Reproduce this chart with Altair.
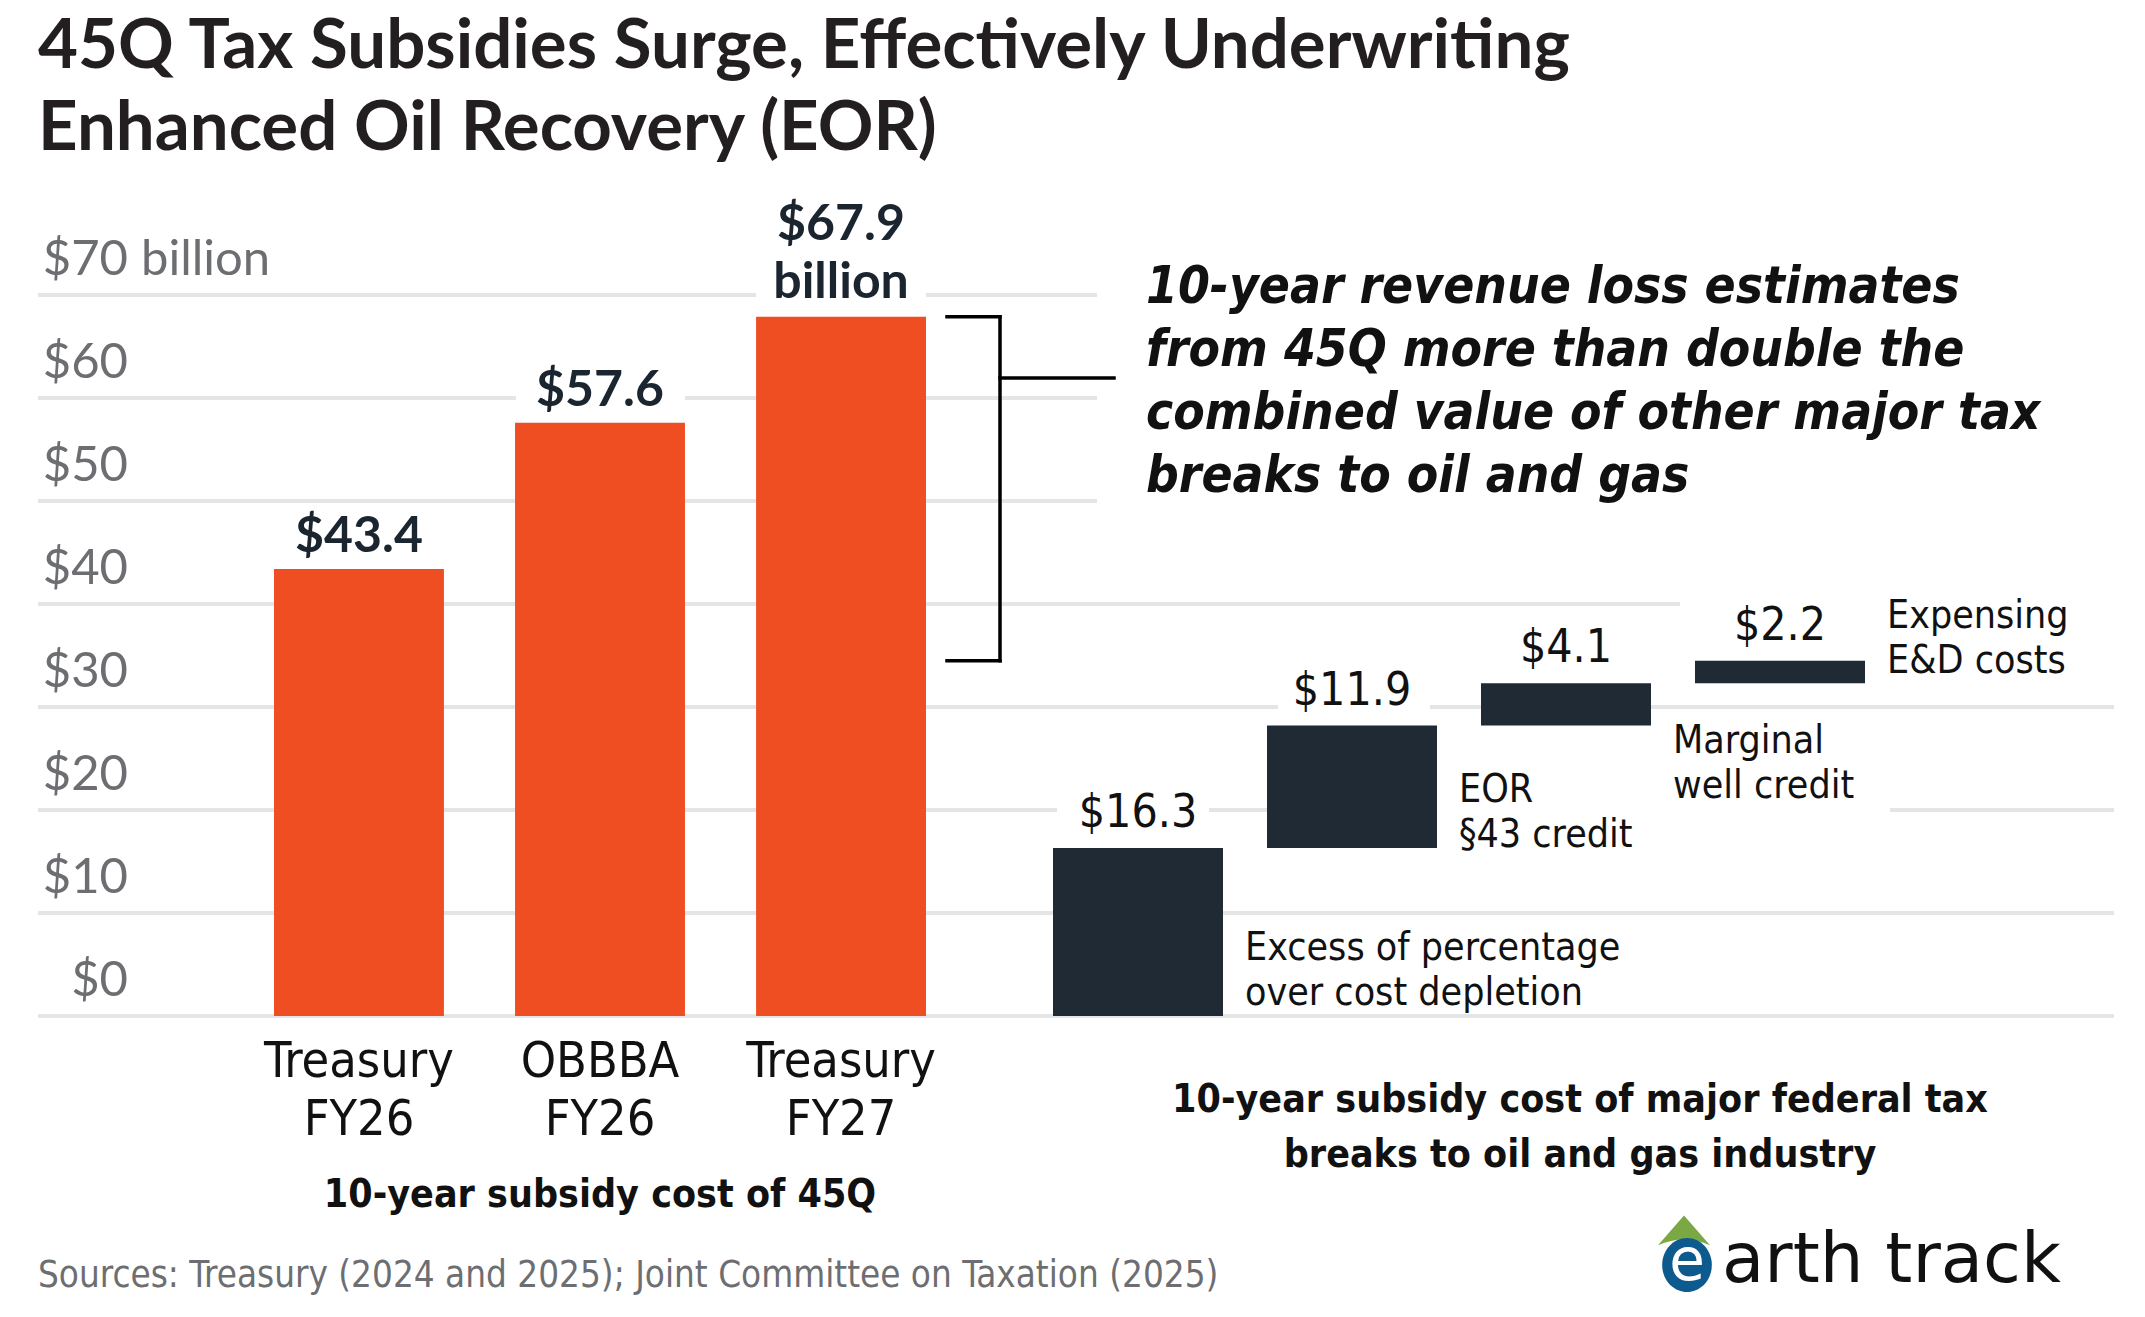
import altair as alt
import pandas as pd

# ---------------- data ----------------
TITLE = "45Q Tax Subsidies Surge, Effectively Underwriting\nEnhanced Oil Recovery (EOR)"

Q45_LABELS = ["Treasury\nFY26", "OBBBA\nFY26", "Treasury\nFY27"]
Q45_VALUES = [43.4, 57.6, 67.9]

OIL_LABELS = [
    "Excess of percentage\nover cost depletion",
    "EOR\n§43 credit",
    "Marginal\nwell credit",
    "Expensing\nE&D costs",
]
OIL_VALUES = [16.3, 11.9, 4.1, 2.2]

Y_TICKS = [0, 10, 20, 30, 40, 50, 60, 70]
Y_TICK_LABELS = ["$0", "$10", "$20", "$30", "$40", "$50", "$60", "$70"]
Y_UNIT = "billion"

LEFT_SUBTITLE = "10-year subsidy cost of 45Q"
RIGHT_SUBTITLE = "10-year subsidy cost of major federal tax\nbreaks to oil and gas industry"
CALLOUT = ("10-year revenue loss estimates\nfrom 45Q more than double the\n"
           "combined value of other major tax\nbreaks to oil and gas")
SOURCE = "Sources: Treasury (2024 and 2025); Joint Committee on Taxation (2025)"

# ---------------- layout & style ----------------
W, H = 2145, 1317
LEFT_W = 940
RIGHT_W = W - LEFT_W
ZERO_PX = 1016          # pixel row of the $0 baseline
PX_PER_UNIT = 10.3      # pixels per $1 billion
Y_DOMAIN = [-(H - ZERO_PX) / PX_PER_UNIT, ZERO_PX / PX_PER_UNIT]

ORANGE = "#ef4e23"
DARK = "#1f2a35"
LABEL_DARK = "#1b2530"
GRID = "#e4e5e7"
GRAY = "#6d6e71"
INK = "#111111"

SANS = "Lato"
NARROW = "DejaVu Sans Condensed, sans-serif"

# gridline runs (pixel spans inside each panel); breaks leave room for labels
LEFT_GRID_RUNS = {
    0: [(38, 940)], 10: [(38, 940)], 20: [(38, 940)], 30: [(38, 940)],
    40: [(38, 940)], 50: [(38, 940)], 60: [(38, 516), (685, 940)],
    70: [(38, 756), (926, 940)],
}
RIGHT_GRID_RUNS = {
    0: [(0, 1174)], 10: [(0, 1174)], 20: [(0, 117), (269, 495), (950, 1174)],
    30: [(0, 338), (490, 1174)], 40: [(0, 740)],
    50: [(0, 157)], 60: [(0, 157)], 70: [(0, 157)],
}
# vertical offsets of the category notes beside the stacked bars
OIL_NOTE_DY = [-56, -46, 27, -55]
VALUE_LH = 58

ys = alt.Scale(domain=Y_DOMAIN, nice=False, zero=False)


def one(**kw):
    return pd.DataFrame({k: [v] for k, v in kw.items()})


ticks_df = pd.DataFrame({"v": Y_TICKS, "label": Y_TICK_LABELS})


def grid_layers(runs):
    out = []
    for tick, spans in runs.items():
        for x0, x1 in spans:
            out.append(
                alt.Chart(ticks_df).transform_filter(alt.datum.v == tick)
                .mark_rule(color=GRID, strokeWidth=4)
                .encode(y=alt.Y("v:Q", scale=ys, axis=None), x=alt.value(x0), x2=alt.value(x1))
            )
    return out


# ================= left panel: 45Q estimates =================
left_df = pd.DataFrame({"label": Q45_LABELS, "value": Q45_VALUES})
left_df["text"] = ["$%.1f" % v for v in Q45_VALUES]
left_df.loc[left_df["value"].idxmax(), "text"] += "\n" + Y_UNIT

xl = alt.X("label:N", sort=Q45_LABELS, axis=None,
           scale=alt.Scale(range=[274, 926], paddingInner=0.295, paddingOuter=0))

tick_text = alt.Chart(ticks_df).mark_text(
    align="right", baseline="alphabetic", dy=-20, fontSize=49, font=SANS, color=GRAY
).encode(y=alt.Y("v:Q", scale=ys), x=alt.value(128), text="label:N")

unit_text = alt.Chart(ticks_df).transform_filter(
    alt.datum.v == max(Y_TICKS)
).mark_text(
    align="left", baseline="alphabetic", dy=-20, fontSize=49, font=SANS, color=GRAY, text=Y_UNIT
).encode(y=alt.Y("v:Q", scale=ys), x=alt.value(141))

left_bars = alt.Chart(left_df).mark_bar(color=ORANGE).encode(
    x=xl, y=alt.Y("value:Q", scale=ys), y2=alt.datum(0))

left_vals = []
for lab, txt in zip(left_df["label"], left_df["text"]):
    n_lines = txt.count("\n") + 1
    left_vals.append(
        alt.Chart(left_df).transform_filter(alt.datum.label == lab).mark_text(
            baseline="alphabetic", dy=-17 - (n_lines - 1) * (VALUE_LH + 2), fontSize=50,
            font=SANS, fontWeight="bold", lineBreak="\n", lineHeight=VALUE_LH, color=LABEL_DARK
        ).encode(x=xl, y=alt.Y("value:Q", scale=ys), text="text:N")
    )

left_cats = alt.Chart(left_df).mark_text(
    baseline="alphabetic", fontSize=50, font=NARROW, color=INK, lineBreak="\n", lineHeight=58
).encode(x=xl, y=alt.value(1077), text="label:N")

left_sub = alt.Chart(one(t=LEFT_SUBTITLE)).mark_text(
    baseline="alphabetic", fontSize=39, font=NARROW, fontWeight="bold", color=INK
).encode(x=alt.value(600), y=alt.value(1207), text="t:N")

title = alt.Chart(one(t=TITLE)).mark_text(
    align="left", baseline="alphabetic", fontSize=69, font=SANS, fontWeight="bold",
    color="#231f20", lineBreak="\n", lineHeight=82
).encode(x=alt.value(38), y=alt.value(68), text="t:N")

source = alt.Chart(one(t=SOURCE)).mark_text(
    align="left", baseline="alphabetic", fontSize=36.5, font=NARROW, color=GRAY
).encode(x=alt.value(38), y=alt.value(1287), text="t:N")

left = alt.layer(
    *grid_layers(LEFT_GRID_RUNS), tick_text, unit_text, left_bars, *left_vals,
    left_cats, left_sub, title, source
).properties(width=LEFT_W, height=H)

# ================= right panel: oil & gas tax breaks =================
right_df = pd.DataFrame({"label": OIL_LABELS, "value": OIL_VALUES})
right_df["end"] = right_df["value"].cumsum()
right_df["start"] = right_df["end"] - right_df["value"]
right_df["text"] = ["$%.1f" % v for v in OIL_VALUES]

xr = alt.X("label:N", sort=OIL_LABELS, axis=None,
           scale=alt.Scale(range=[113, 925], paddingInner=0.2056, paddingOuter=0))

right_bars = alt.Chart(right_df).mark_bar(color=DARK).encode(
    x=xr, y=alt.Y("start:Q", scale=ys), y2="end:Q")

right_vals = alt.Chart(right_df).mark_text(
    baseline="alphabetic", dy=-21, fontSize=46, font=NARROW, color=INK
).encode(x=xr, y=alt.Y("end:Q", scale=ys), text="text:N")

notes = []
for lab, dy in zip(OIL_LABELS, OIL_NOTE_DY):
    notes.append(
        alt.Chart(right_df).transform_filter(alt.datum.label == lab).mark_text(
            align="left", baseline="alphabetic", dx=107, dy=dy, fontSize=39,
            font=NARROW, lineBreak="\n", lineHeight=45, color=INK
        ).encode(x=xr, y=alt.Y("start:Q", scale=ys), text="label:N")
    )

bracket_df = one(top=max(Q45_VALUES), bottom=sum(OIL_VALUES))
rule_kw = dict(color="black", strokeWidth=3.5, strokeCap="square")
br_vert = alt.Chart(bracket_df).mark_rule(**rule_kw).encode(
    x=alt.value(60), y=alt.Y("top:Q", scale=ys), y2="bottom:Q")
br_top = alt.Chart(bracket_df).mark_rule(**rule_kw).encode(
    x=alt.value(7), x2=alt.value(60), y=alt.Y("top:Q", scale=ys))
br_bot = alt.Chart(bracket_df).mark_rule(**rule_kw).encode(
    x=alt.value(7), x2=alt.value(60), y=alt.Y("bottom:Q", scale=ys))
br_stub = alt.Chart(bracket_df).mark_rule(**rule_kw).encode(
    x=alt.value(60), x2=alt.value(174), y=alt.value(378))

callout = alt.Chart(one(t=CALLOUT)).mark_text(
    align="left", baseline="alphabetic", fontSize=51, font=NARROW, fontWeight="bold",
    fontStyle="italic", color=INK, lineBreak="\n", lineHeight=63
).encode(x=alt.value(206), y=alt.value(303), text="t:N")

right_sub = alt.Chart(one(t=RIGHT_SUBTITLE)).mark_text(
    baseline="alphabetic", fontSize=39, font=NARROW, fontWeight="bold", color=INK,
    lineBreak="\n", lineHeight=55
).encode(x=alt.value(640), y=alt.value(1112), text="t:N")

# earth track wordmark
logo_df = one(word="arth track", e="e")
logo_roof = alt.Chart(logo_df).mark_point(
    shape="M -1 0.55 L 0 -0.6 L 1 0.55 Q 0 0.1 -1 0.55 Z", size=2704,
    filled=True, color="#7aa843", opacity=1
).encode(x=alt.value(744), y=alt.value(1231))
logo_ball = alt.Chart(logo_df).mark_point(
    shape="M 0 -1 A 0.92 1 0 1 1 0 1 A 0.92 1 0 1 1 0 -1 Z", size=2916,
    filled=True, color="#0d5a8f", opacity=1
).encode(x=alt.value(747), y=alt.value(1265))
logo_e = alt.Chart(logo_df).mark_text(
    baseline="middle", fontSize=58, font="DejaVu Sans", color="white"
).encode(x=alt.value(747), y=alt.value(1263), text="e:N")
logo_word = alt.Chart(logo_df).mark_text(
    align="left", baseline="alphabetic", fontSize=69, font="DejaVu Sans", color=INK
).encode(x=alt.value(782), y=alt.value(1282), text="word:N")

right = alt.layer(
    *grid_layers(RIGHT_GRID_RUNS), right_bars, right_vals, *notes,
    br_vert, br_top, br_bot, br_stub, callout, right_sub,
    logo_roof, logo_ball, logo_e, logo_word
).properties(width=RIGHT_W, height=H)

chart = alt.hconcat(left, right, spacing=0, bounds="flush").properties(
    padding=0, background="white"
).configure_view(stroke=None)

chart.save("out.html", embed_options={"renderer": "svg", "actions": False})
